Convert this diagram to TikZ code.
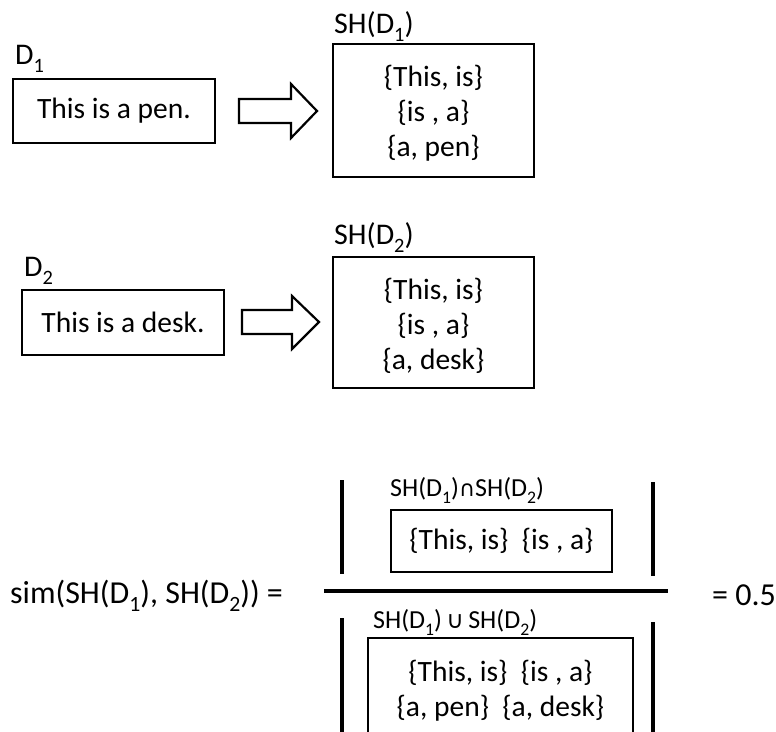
\documentclass[tikz,border=0pt]{standalone}
\usepackage{fontspec}
\usepackage{graphicx}
\setmainfont{Carlito}
\newfontfamily\symfont{DejaVu Sans}
\newcommand{\subsc}[1]{\raisebox{-0.28em}{\scalebox{0.68}{#1}}}
\usetikzlibrary{calc}
\tikzset{
  txt/.style={font=\fontsize{29.5}{35}\selectfont, inner sep=0pt, align=center},
  lbl/.style={font=\fontsize{30}{36}\selectfont, inner sep=0pt},
  big/.style={font=\fontsize{32}{38}\selectfont, inner sep=0pt},
  small/.style={font=\fontsize{26}{30}\selectfont, inner sep=0pt},
  docbox/.style={draw, line width=1.8pt, inner sep=0pt, align=center,
                 font=\fontsize{29.5}{35}\selectfont},
  bar/.style={line width=3.4pt},
  blockarrow/.style={draw, line width=2.2pt, line join=miter, fill=white}
}
\begin{document}
\begin{tikzpicture}[x=1pt, y=-1pt]
  \useasboundingbox (0,0) rectangle (776,731);

  % ---------- first document ----------
  \node[docbox, minimum width=202pt, minimum height=64pt] (doc1) at (114,111) {This is a pen.};
  \node[lbl, anchor=base west] (doc1lbl) at (15,64) {D\subsc{1}};
  \node[docbox, minimum width=201pt, minimum height=133pt] (sh1) at (433.5,110.5) {};
  \node[txt] (sh1txt) at ($(sh1.center)+(0,3)$) {\{This, is\}\\ \{is , a\}\\ \{a, pen\}};
  \node[lbl, anchor=base west] (sh1lbl) at (334,33) {SH(D\subsc{1})};
  \draw[blockarrow] (239,99) -- (291,99) -- (291,84) -- (317,111) -- (291,138)
        -- (291,123) -- (239,123) -- cycle;

  % ---------- second document ----------
  \node[docbox, minimum width=202pt, minimum height=65pt] (doc2) at (123,322.5) {This is a desk.};
  \node[lbl, anchor=base west] (doc2lbl) at (24,276) {D\subsc{2}};
  \node[docbox, minimum width=201pt, minimum height=131pt] (sh2) at (433.5,322.5) {};
  \node[txt] (sh2txt) at ($(sh2.center)+(0,3)$) {\{This, is\}\\ \{is , a\}\\ \{a, desk\}};
  \node[lbl, anchor=base west] (sh2lbl) at (334,244) {SH(D\subsc{2})};
  \draw[blockarrow] (242,310) -- (292,310) -- (292,296) -- (319,322) -- (292,349)
        -- (292,334) -- (242,334) -- cycle;

  % ---------- similarity ----------
  \node[big, anchor=base west] (sim) at (10,603) {sim(SH(D\subsc{1}), SH(D\subsc{2})) =};
  \node[big, anchor=base west] (res) at (712,605) {= 0.5};
  \coordinate (fracL) at (324,591);
  \coordinate (fracR) at (668,591);
  \draw[line width=4pt] (fracL) -- (fracR);

  % numerator: |SH(D1) n SH(D2)|
  \node[docbox, minimum width=221pt, minimum height=62pt] (inter) at (501.5,541)
    {\{This, is\}\ \ \{is , a\}};
  \node[small, anchor=base west] (interlbl) at (390,496)
    {SH(D\subsc{1}){\symfont\fontsize{22}{24}\selectfont ∩}SH(D\subsc{2})};
  \coordinate (nL1) at (342,480); \coordinate (nL2) at (342,574);
  \coordinate (nR1) at (653,482); \coordinate (nR2) at (653,576);
  \draw[bar] (nL1) -- (nL2);
  \draw[bar] (nR1) -- (nR2);

  % denominator: |SH(D1) u SH(D2)|
  \begin{scope}
    \clip (0,0) rectangle (776,731);
    \draw[line width=1.8pt] (368,780) -- (368,638) -- (633,638) -- (633,780);
    \coordinate (dL1) at (342,618); \coordinate (dL2) at (342,740);
    \coordinate (dR1) at (653,622); \coordinate (dR2) at (653,740);
    \draw[bar] (dL1) -- (dL2);
    \draw[bar] (dR1) -- (dR2);
  \end{scope}
  \node[txt] (union) at (500.5,691)
    {\{This, is\}\ \ \{is , a\}\\ \{a, pen\}\ \ \{a, desk\}};
  \node[small, anchor=base west] (unionlbl) at (373,628)
    {SH(D\subsc{1})\,{\symfont\fontsize{24}{26}\selectfont ∪}\,SH(D\subsc{2})};
\end{tikzpicture}
\end{document}
